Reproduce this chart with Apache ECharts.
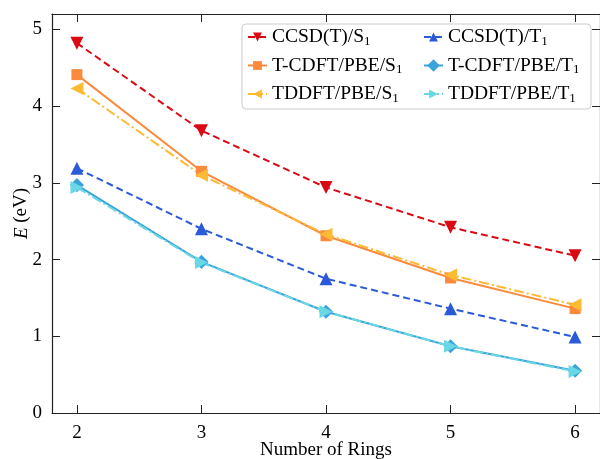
<!DOCTYPE html>
<html>
<head>
<meta charset="utf-8">
<script src="https://cdn.jsdelivr.net/npm/echarts@6/dist/echarts.min.js"></script>
<style>
  html, body { margin: 0; padding: 0; background: #fff; }
  #main { width: 600px; height: 459px; }
</style>
</head>
<body>
<div id="main"></div>
<script>
// 数据
const rings = [2, 3, 4, 5, 6]
const ccsdS1 = [4.82, 3.68, 2.94, 2.42, 2.05]
const ccsdT1 = [3.19, 2.40, 1.75, 1.36, 0.99]
const tcdftS1 = [4.41, 3.15, 2.31, 1.76, 1.36]
const tcdftT1 = [2.97, 1.97, 1.32, 0.87, 0.55]
const tddftS1 = [4.23, 3.10, 2.33, 1.80, 1.41]
const tddftT1 = [2.94, 1.96, 1.32, 0.87, 0.54]
const yTicks = [0, 1, 2, 3, 4, 5]

const FONT = 'Liberation Serif'
const pairs = (vals) => rings.map((r, i) => [r, vals[i]])

// 系列配置
const makeSeries = (name, vals, color, lineType, symbol, rotate, size) => {
  return {
    name: name,
    type: 'line',
    data: pairs(vals),
    symbol: symbol,
    symbolSize: size,
    symbolRotate: rotate,
    color: color,
    lineStyle: { color: color, width: 2, type: lineType },
    itemStyle: { color: color },
    z: 3
  }
}

const dash = [7, 4]
const dashDot = [10, 3, 2, 3]

const series = [
  makeSeries('CCSD(T)/S1', ccsdS1, '#d90a14', dash, 'triangle', 180, 13),
  makeSeries('CCSD(T)/T1', ccsdT1, '#2a5ad8', dash, 'triangle', 0, 13),
  makeSeries('T-CDFT/PBE/S1', tcdftS1, '#fb8a3c', 'solid', 'rect', 0, 11),
  makeSeries('T-CDFT/PBE/T1', tcdftT1, '#3ba3dc', 'solid', 'rect', 45, 10),
  makeSeries('TDDFT/PBE/S1', tddftS1, '#fdba33', dashDot, 'triangle', 90, 13),
  makeSeries('TDDFT/PBE/T1', tddftT1, '#6ad8e4', dashDot, 'triangle', -90, 13)
]

// 图例文字（下标）
const legendFmt = (name) => {
  let base = name.slice(0, -1)
  let sub = name.slice(-1)
  return '{a|' + base + '}{s|' + sub + '}'
}
const legendRich = {
  a: { fontFamily: FONT, fontSize: 19.5, color: '#000', lineHeight: 22 },
  s: { fontFamily: FONT, fontSize: 13, color: '#000', lineHeight: 22, verticalAlign: 'bottom', padding: [9, 0, 0, 0] }
}
const legendBase = {
  orient: 'vertical',
  top: 21,
  itemGap: 6.5,
  itemWidth: 19,
  itemHeight: 11,
  formatter: legendFmt,
  textStyle: { rich: legendRich }
}

const tickStyle = { show: true, inside: true, length: 8, lineStyle: { color: '#222', width: 1 } }
const lineStyle = { show: true, onZero: false, lineStyle: { color: '#222', width: 1.2 } }

let chart = echarts.init(document.getElementById('main'))
let option = {
  animation: false,
  backgroundColor: '#fff',
  grid: { left: 52, right: 0, top: 14, bottom: 46, containLabel: false, outerBoundsMode: 'none' },
  graphic: [{
    type: 'rect',
    shape: { x: 242, y: 24, width: 349, height: 85, r: 4 },
    style: { fill: 'rgba(255,255,255,0.85)', stroke: '#cccccc', lineWidth: 1 },
    z: 4
  }],
  legend: [
    Object.assign({}, legendBase, { left: 242, data: ['CCSD(T)/S1', 'T-CDFT/PBE/S1', 'TDDFT/PBE/S1'], z: 5 }),
    Object.assign({}, legendBase, { left: 418, data: ['CCSD(T)/T1', 'T-CDFT/PBE/T1', 'TDDFT/PBE/T1'], z: 5 })
  ],
  xAxis: [
    {
      type: 'value',
      min: 1.8,
      max: 6.2,
      name: 'Number of Rings',
      nameLocation: 'middle',
      nameGap: 28,
      nameMoveOverlap: false,
      nameTextStyle: { fontFamily: FONT, fontSize: 19, color: '#000' },
      axisLine: lineStyle,
      axisTick: Object.assign({}, tickStyle, { customValues: rings }),
      splitLine: { show: false },
      axisLabel: {
        fontFamily: FONT, fontSize: 19, color: '#000', margin: 11,
        customValues: rings
      }
    },
    {
      type: 'value',
      position: 'top',
      min: 1.8,
      max: 6.2,
      axisLine: lineStyle,
      axisTick: Object.assign({}, tickStyle, { customValues: rings }),
      axisLabel: { show: false },
      splitLine: { show: false }
    }
  ],
  yAxis: [
    {
      type: 'value',
      min: 0,
      max: 5.2,
      interval: 1,
      name: '{i|E} (eV)',
      nameLocation: 'middle',
      nameGap: 21,
      nameMoveOverlap: false,
      nameRotate: 90,
      nameTextStyle: {
        fontFamily: FONT, fontSize: 19, color: '#000',
        rich: { i: { fontFamily: FONT, fontSize: 19, fontStyle: 'italic', color: '#000' } }
      },
      axisLine: lineStyle,
      axisTick: Object.assign({}, tickStyle, { customValues: yTicks }),
      splitLine: { show: false },
      axisLabel: {
        fontFamily: FONT, fontSize: 19, color: '#000', margin: 10,
        customValues: yTicks
      }
    },
    {
      type: 'value',
      position: 'right',
      min: 0,
      max: 5.2,
      interval: 1,
      axisLine: lineStyle,
      axisTick: Object.assign({}, tickStyle, { customValues: yTicks }),
      axisLabel: { show: false },
      splitLine: { show: false }
    }
  ],
  series: series
}
chart.setOption(option)
</script>
</body>
</html>
